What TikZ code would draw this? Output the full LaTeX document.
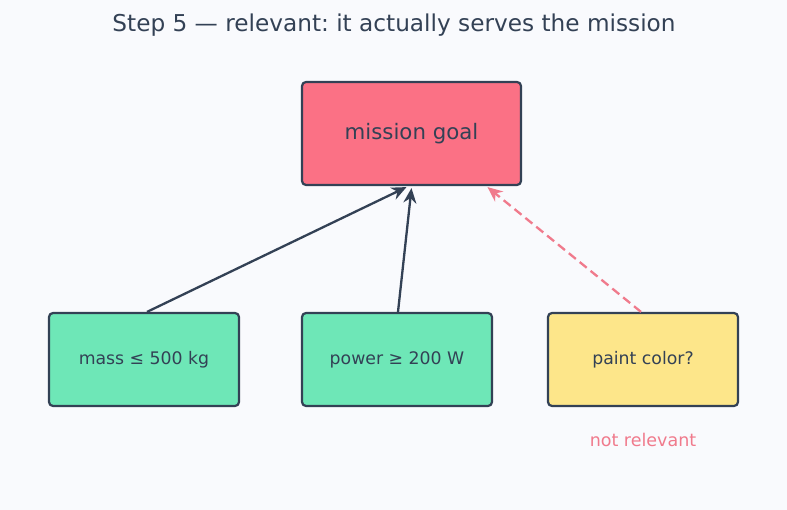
\documentclass[tikz,border=0pt]{standalone}
\usepackage{fontspec}
\setmainfont{DejaVu Sans}
\usetikzlibrary{arrows.meta,calc}
\frenchspacing
\definecolor{bg}{HTML}{F9FAFD}
\definecolor{ink}{HTML}{334155}
\definecolor{rosef}{HTML}{FB7185}
\definecolor{greenf}{HTML}{6EE7B7}
\definecolor{yellowf}{HTML}{FDE68A}
\definecolor{pinkline}{HTML}{F07A8C}
\tikzset{
  box/.style={draw=ink, line width=2.2pt, rounded corners=4pt, text=ink, inner sep=0pt},
  smallbox/.style={box, minimum width=190pt, minimum height=93pt, font=\fontsize{17.3}{20}\selectfont},
  edge/.style={draw=ink, line width=2.3pt, -{Stealth[length=15pt,width=13pt]}},
  dashedge/.style={draw=pinkline, line width=2.3pt, dash pattern=on 9pt off 5pt, -{Stealth[length=15pt,width=13pt]}}
}
\begin{document}
\begin{tikzpicture}[x=1pt,y=-1pt]
\fill[bg] (0,0) rectangle (787,510);
\useasboundingbox (0,0) rectangle (787,510);
\node[text=ink, font=\fontsize{23.2}{26}\selectfont] (title) at (394,25.5) {Step 5 — relevant: it actually serves the mission};
\node[box, fill=rosef, minimum width=219pt, minimum height=103pt, font=\fontsize{21.3}{24}\selectfont] (goal) at (411.5,133.5) {\raisebox{-1.5pt}{mission goal}};
\node[smallbox, fill=greenf] (mass) at (144,359.5) {\raisebox{-1pt}{mass ≤ 500 kg}};
\node[smallbox, fill=greenf] (power) at (397,359.5) {\raisebox{-1pt}{power ≥ 200 W}};
\node[smallbox, fill=yellowf] (paint) at (643,359.5) {\raisebox{-1pt}{paint color?}};
\node[text=pinkline, font=\fontsize{17.5}{20}\selectfont] (nr) at (643,440) {not relevant};
\draw[edge] ($(mass.north)+(3,0)$) -- ($(goal.south)+(-5,1)$);
\draw[edge] ($(power.north)+(1,0)$) -- ($(goal.south)+(0,2)$);
\draw[dashedge] ($(paint.north)+(-2,0)$) -- ($(goal.south)+(76,1)$);
\end{tikzpicture}
\end{document}
